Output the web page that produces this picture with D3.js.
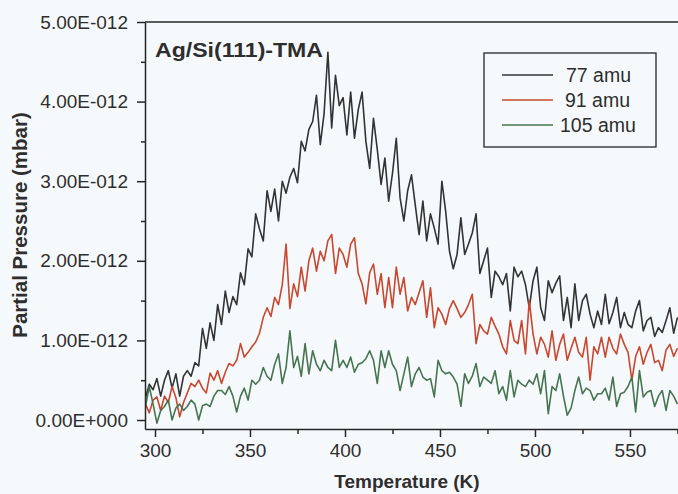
<!DOCTYPE html>
<html>
<head>
<meta charset="utf-8">
<script src="https://cdn.jsdelivr.net/npm/d3@7"></script>
<style>
  html, body { margin: 0; padding: 0; background: #f6f9fb; }
  svg { display: block; font-family: "Liberation Sans", Arial, sans-serif; }
</style>
</head>
<body>
<svg id="chart" width="678" height="494"></svg>
<script>
// Thermal desorption of TMA from Ag/Si(111): partial pressure (units of 1e-12 mbar) vs temperature (K)
const temperature = [
  295,297,299,301,303,305,307,309,311,313,
  315,317,319,321,323,325,327,329,331,333,
  335,337,339,341,343,345,347,349,351,353,
  355,357,359,361,363,365,367,369,371,373,
  375,377,379,381,383,385,387,389,391,393,
  395,397,399,401,403,405,407,409,411,413,
  415,417,419,421,423,425,427,429,431,433,
  435,437,439,441,443,445,447,449,451,453,
  455,457,459,461,463,465,467,469,471,473,
  475,477,479,481,483,485,487,489,491,493,
  495,497,499,501,503,505,507,509,511,513,
  515,517,519,521,523,525,527,529,531,533,
  535,537,539,541,543,545,547,549,551,553,
  555,557,559,561,563,565,567,569,571,573,
  575
];

const amu77 = [
  0.28,0.45,0.38,0.52,0.30,0.50,0.62,0.40,0.58,0.30,
  0.55,0.62,0.55,0.72,0.68,1.15,0.90,1.22,1.00,1.45,
  1.20,1.62,1.35,1.55,1.45,1.85,1.70,2.15,2.05,2.59,
  2.40,2.25,2.88,2.62,2.90,2.50,3.00,2.85,3.05,3.16,
  2.98,3.50,3.38,3.65,3.75,4.08,3.46,3.85,4.62,3.67,
  4.33,3.95,4.05,3.58,4.12,3.54,3.90,4.12,3.50,3.16,
  3.79,3.40,2.96,3.29,2.75,3.10,3.54,2.79,2.50,2.88,
  3.08,2.70,2.33,2.75,2.25,2.59,2.41,2.21,3.00,2.62,
  2.12,1.90,2.08,2.54,2.08,2.21,2.35,2.59,1.84,2.00,
  2.16,1.54,1.87,1.80,1.70,1.84,1.37,1.92,1.80,1.87,
  1.70,1.41,1.75,1.92,1.41,1.25,1.75,1.60,1.72,1.81,
  1.25,1.54,1.16,1.71,1.25,1.50,1.58,1.33,1.16,1.37,
  1.20,1.58,1.21,1.35,1.54,1.16,1.35,1.20,1.16,1.37,
  1.50,1.12,1.25,1.29,1.05,1.16,1.10,1.25,1.41,1.09,
  1.29
];

const amu91 = [
  0.20,0.09,0.25,0.29,0.12,0.30,0.22,0.42,0.28,0.04,
  0.22,0.34,0.46,0.42,0.50,0.40,0.34,0.59,0.50,0.62,
  0.46,0.60,0.71,0.68,0.75,0.96,0.79,0.85,0.92,0.98,
  1.09,1.29,1.41,1.30,1.54,1.45,1.70,2.21,1.40,1.71,
  1.55,1.92,1.62,2.00,2.16,1.87,2.12,2.00,2.25,2.33,
  1.84,2.16,2.08,1.92,2.21,2.29,1.84,1.71,1.46,1.85,
  1.96,1.58,1.84,1.41,1.79,1.41,1.92,1.58,1.79,1.37,
  1.54,1.45,1.60,1.75,1.29,1.66,1.16,1.41,1.33,1.20,
  1.40,1.50,1.40,1.29,1.35,1.45,1.58,0.96,1.20,1.12,
  1.08,1.29,1.18,1.08,0.92,0.83,1.25,1.00,0.96,1.25,
  0.83,1.50,1.08,0.83,1.04,0.95,0.79,1.12,0.75,0.95,
  1.08,0.75,0.90,1.04,0.85,0.79,1.04,0.50,0.92,0.83,
  1.04,0.79,1.04,0.90,0.83,1.08,0.95,0.85,0.50,0.80,
  0.92,0.70,0.85,0.95,0.72,0.75,0.62,0.88,0.95,0.80,
  0.90
];

const amu105 = [
  0.17,0.42,0.20,-0.04,0.12,0.17,0.25,0.00,0.15,0.20,
  0.12,0.17,0.25,0.20,0.00,0.18,0.20,0.17,0.30,0.37,
  0.37,0.32,0.42,0.30,0.10,0.30,0.40,0.25,0.50,0.45,
  0.50,0.66,0.55,0.50,0.70,0.83,0.46,0.66,1.12,0.66,
  0.80,0.55,0.96,0.58,0.87,0.70,0.62,0.75,0.66,0.62,
  1.00,0.66,0.75,0.66,0.79,0.60,0.70,0.72,0.77,0.87,
  0.75,0.46,0.87,0.66,0.87,0.70,0.62,0.37,0.58,0.79,
  0.42,0.58,0.66,0.54,0.50,0.52,0.29,0.75,0.62,0.58,
  0.60,0.54,0.45,0.17,0.58,0.46,0.55,0.71,0.42,0.54,
  0.50,0.46,0.62,0.33,0.42,0.25,0.62,0.29,0.50,0.45,
  0.42,0.50,0.45,0.58,0.33,0.62,0.08,0.42,0.37,0.58,
  0.30,0.06,0.15,0.37,0.54,0.33,0.40,0.37,0.25,0.33,
  0.33,0.40,0.25,0.54,0.17,0.33,0.35,0.42,0.54,0.10,
  0.62,0.29,0.35,0.37,0.17,0.30,0.37,0.12,0.37,0.30,
  0.20
];

const seriesNames = ["77 amu", "91 amu", "105 amu"];
const seriesColors = ["#333333", "#c8472f", "#467450"];

const xTicks = [300, 350, 400, 450, 500, 550];
const xMinorTicks = [325, 375, 425, 475, 525, 575];
const yTicks = [0, 1, 2, 3, 4, 5];
const yTickLabels = ["0.00E+000", "1.00E-012", "2.00E-012", "3.00E-012", "4.00E-012", "5.00E-012"];
const yMinorTicks = [0.5, 1.5, 2.5, 3.5, 4.5];

const chartTitle = "Ag/Si(111)-TMA";
const xTitle = "Temperature (K)";
const yTitle = "Partial Pressure (mbar)";

// ---- layout ----
const plot = { left: 145, top: 22, right: 690, bottom: 429 };
const axisColor = "#262626";
const textColor = "#2e2e2e";

const x = d3.scaleLinear().domain([294.74, 581.6]).range([plot.left, plot.right]);
const y = d3.scaleLinear().domain([-0.113, 5]).range([plot.bottom, plot.top]);

const svg = d3.select("#chart");

svg.append("defs").append("clipPath").attr("id", "plot-clip")
  .append("rect")
  .attr("x", plot.left).attr("y", plot.top)
  .attr("width", plot.right - plot.left).attr("height", plot.bottom - plot.top);

// ---- series ----
const seriesValues = [amu77, amu91, amu105];
const line = d3.line()
  .x(d => x(d[0]))
  .y(d => y(d[1]));

const lines = svg.append("g").attr("clip-path", "url(#plot-clip)");
seriesValues.forEach((vals, i) => {
  const pts = temperature.map((t, k) => [t, vals[k]]);
  lines.append("path")
    .datum(pts)
    .attr("fill", "none")
    .attr("stroke", seriesColors[i])
    .attr("stroke-width", 1.6)
    .attr("stroke-linejoin", "round")
    .attr("d", line);
});

// ---- axes ----
const xAxis = d3.axisBottom(x)
  .tickValues(xTicks)
  .tickSize(8)
  .tickSizeOuter(0)
  .tickPadding(7)
  .tickFormat(d3.format("d"));

const gx = svg.append("g")
  .attr("transform", `translate(0,${plot.bottom})`)
  .call(xAxis);

const xMinor = d3.axisBottom(x).tickValues(xMinorTicks).tickSize(5).tickFormat("").tickSizeOuter(0);
const gxm = svg.append("g").attr("transform", `translate(0,${plot.bottom})`).call(xMinor);
gxm.select(".domain").remove();

const yAxis = d3.axisLeft(y)
  .tickValues(yTicks)
  .tickSize(8)
  .tickSizeOuter(0)
  .tickPadding(9)
  .tickFormat((d, i) => yTickLabels[i]);

const gy = svg.append("g")
  .attr("transform", `translate(${plot.left},0)`)
  .call(yAxis);

const yMinor = d3.axisLeft(y).tickValues(yMinorTicks).tickSize(4).tickFormat("").tickSizeOuter(0);
const gym = svg.append("g").attr("transform", `translate(${plot.left},0)`).call(yMinor);
gym.select(".domain").remove();

[gx, gxm, gy, gym].forEach(g => {
  g.selectAll("path, line").attr("stroke", axisColor).attr("stroke-width", 1.5);
  g.selectAll("text")
    .attr("fill", textColor)
    .style("font-size", "19px")
    .style("font-family", "'Liberation Sans', Arial, sans-serif");
});

// top frame line
svg.append("line")
  .attr("x1", plot.left).attr("x2", plot.right)
  .attr("y1", plot.top).attr("y2", plot.top)
  .attr("stroke", axisColor).attr("stroke-width", 1.5);

// ---- titles ----
svg.append("text")
  .attr("x", 155).attr("y", 57)
  .attr("fill", textColor)
  .attr("font-weight", "bold")
  .attr("font-size", 20)
  .attr("textLength", 168)
  .attr("lengthAdjust", "spacingAndGlyphs")
  .text(chartTitle);

svg.append("text")
  .attr("x", 407).attr("y", 488)
  .attr("text-anchor", "middle")
  .attr("fill", textColor)
  .attr("font-weight", "bold")
  .attr("font-size", 19)
  .text(xTitle);

svg.append("text")
  .attr("transform", "translate(27,225) rotate(-90)")
  .attr("text-anchor", "middle")
  .attr("fill", textColor)
  .attr("font-weight", "bold")
  .attr("font-size", 20.5)
  .text(yTitle);

// ---- legend ----
const legend = svg.append("g");
legend.append("rect")
  .attr("x", 484).attr("y", 53)
  .attr("width", 172).attr("height", 94)
  .attr("fill", "none")
  .attr("stroke", axisColor)
  .attr("stroke-width", 1.3);

const legendTextX = [566, 565, 560];
seriesNames.forEach((name, i) => {
  const cy = 75 + i * 25;
  legend.append("line")
    .attr("x1", 502).attr("x2", 553)
    .attr("y1", cy).attr("y2", cy)
    .attr("stroke", seriesColors[i])
    .attr("stroke-width", 1.5);
  legend.append("text")
    .attr("x", legendTextX[i]).attr("y", cy + 7)
    .attr("fill", textColor)
    .attr("font-size", 19.5)
    .text(name);
});
</script>
</body>
</html>
